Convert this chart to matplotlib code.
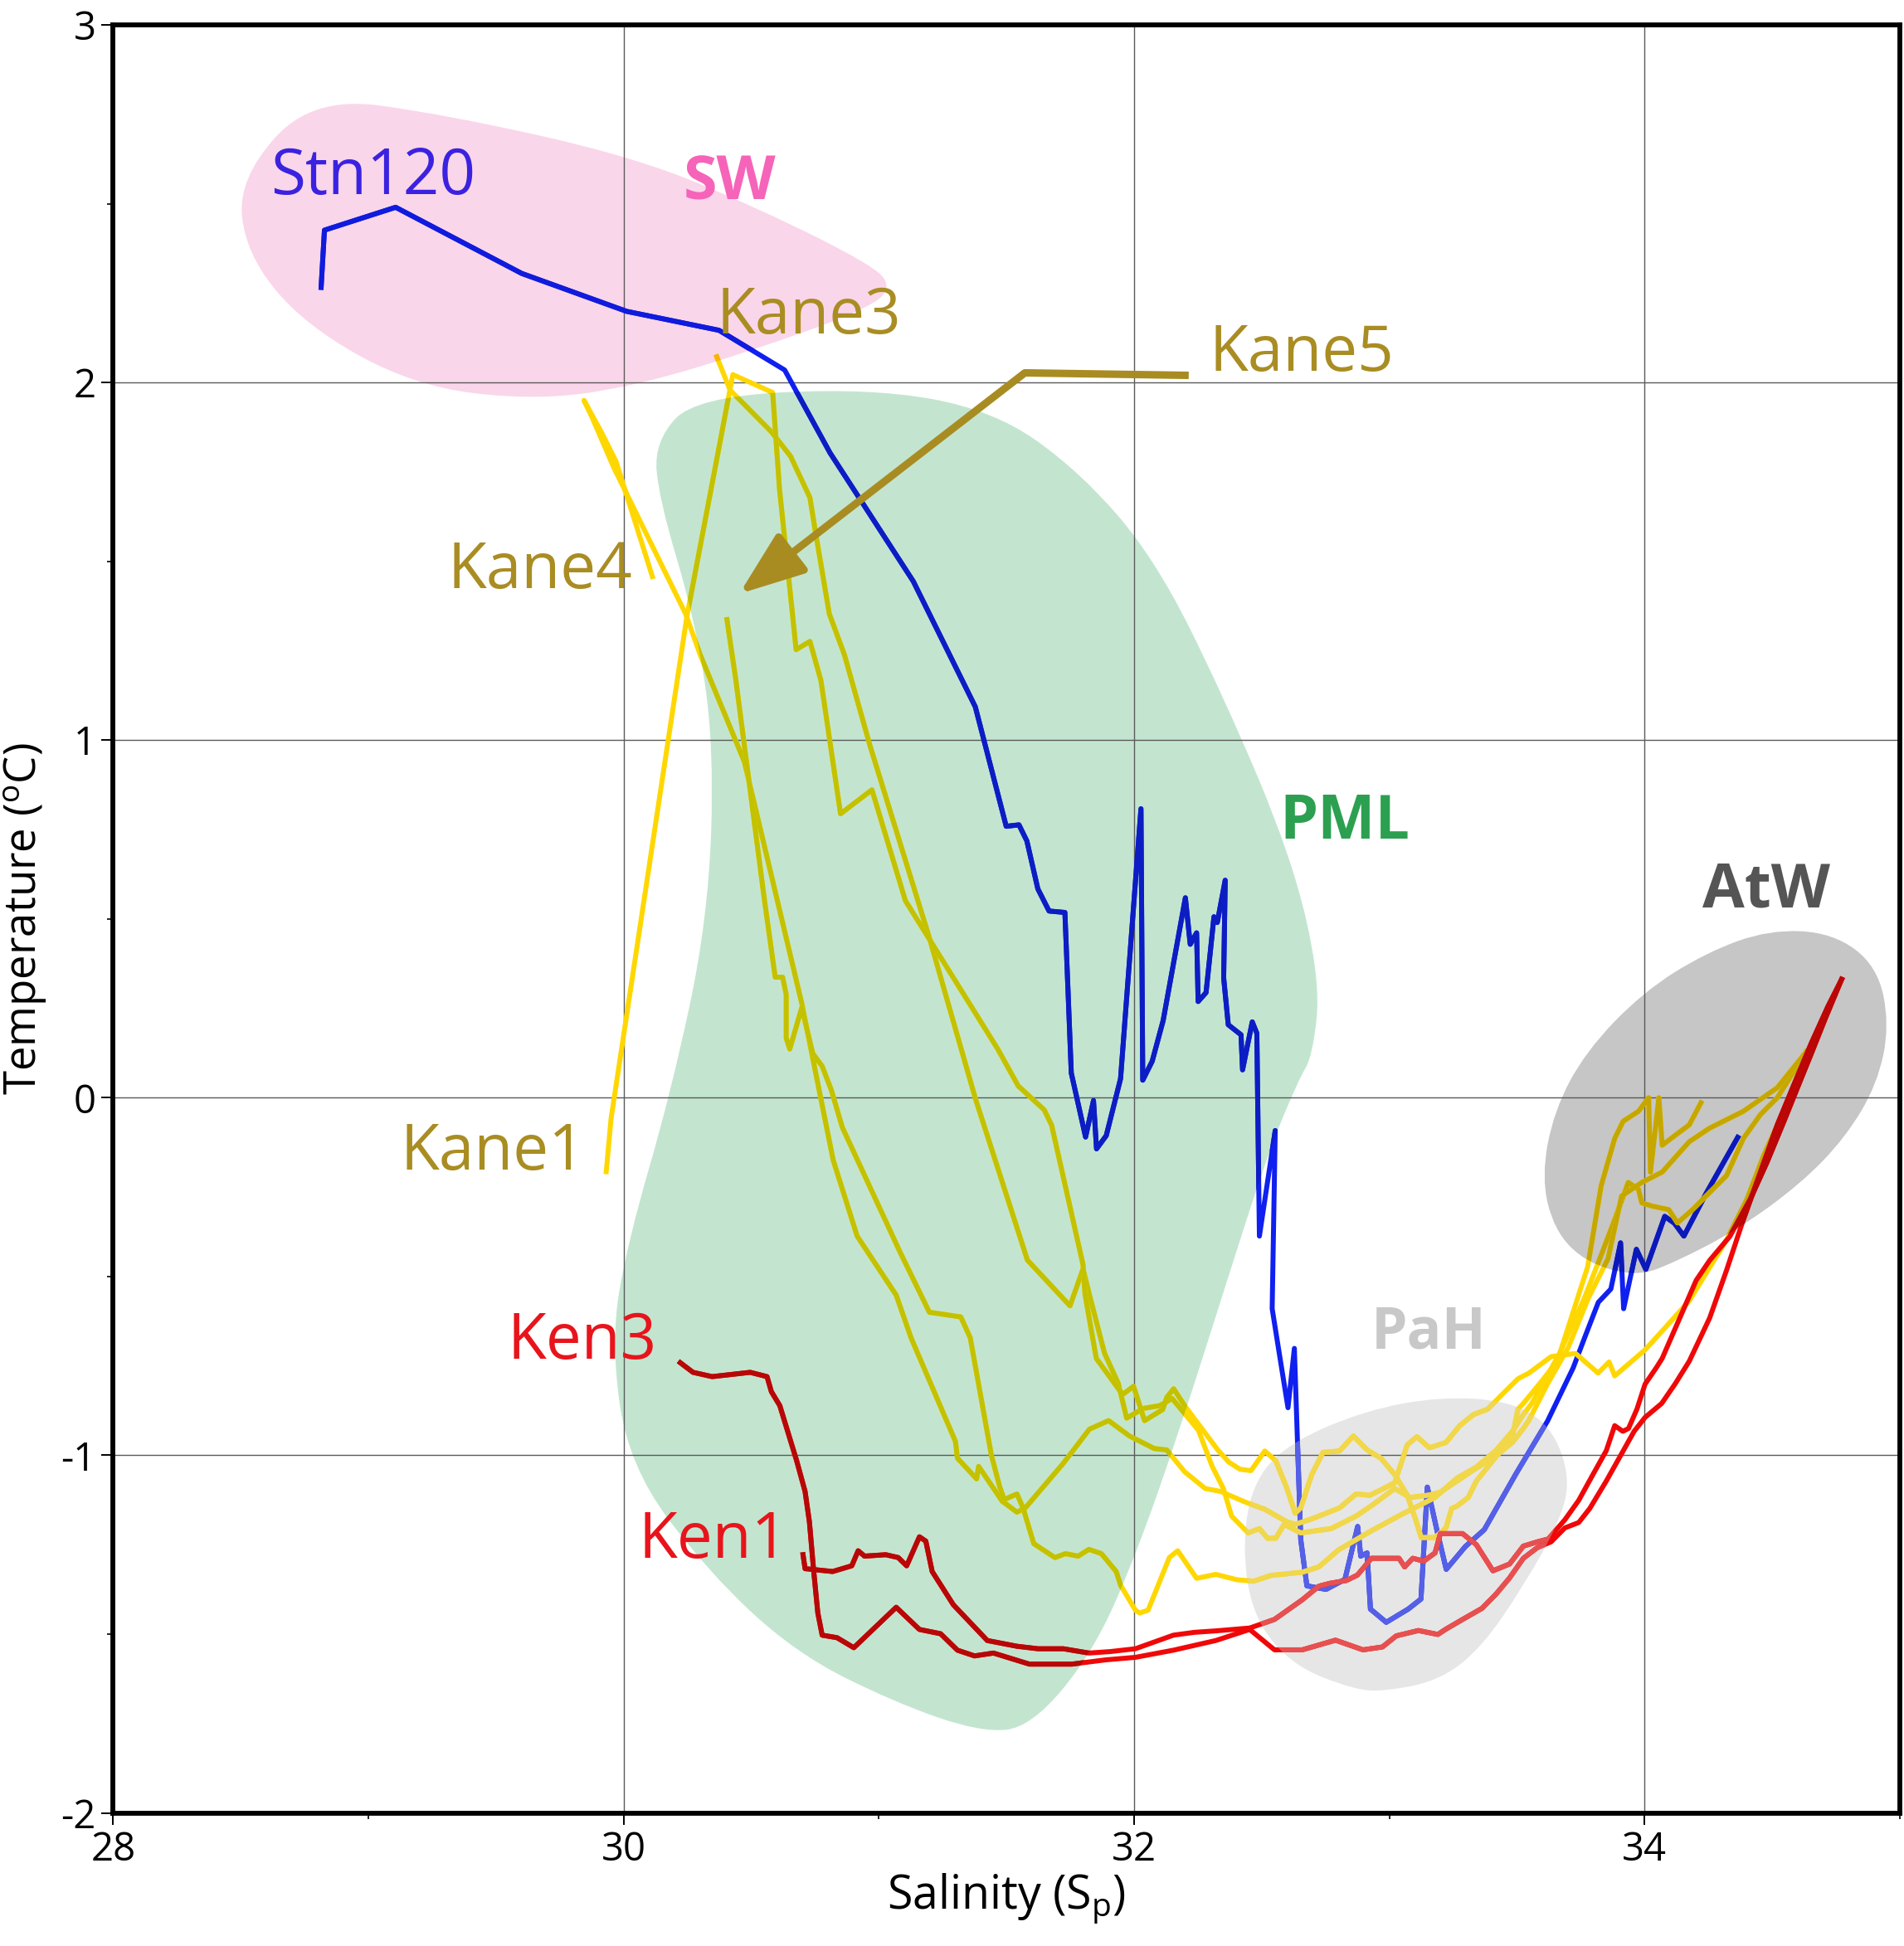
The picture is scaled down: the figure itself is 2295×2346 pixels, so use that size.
import numpy as np
import matplotlib
matplotlib.use('Agg')
import matplotlib.pyplot as plt
from matplotlib.path import Path
from matplotlib.patches import PathPatch
from matplotlib.colors import to_rgb

plt.rcParams['font.family'] = ['Open Sans', 'DejaVu Sans']
plt.rcParams['mathtext.default'] = 'regular'
plt.rcParams['axes.unicode_minus'] = False

# ---- profiles (salinity, temperature) ----
stn120_s = [28.815, 28.828, 29.107, 29.601, 30.012, 30.374, 30.631, 30.809, 31.135, 31.378, 31.499, 31.549,
            31.580, 31.623, 31.667, 31.729, 31.754, 31.810, 31.841, 31.853, 31.891, 31.947, 32.027, 32.034,
            32.071, 32.114, 32.201, 32.220, 32.245, 32.251, 32.282, 32.313, 32.326, 32.357, 32.351, 32.369,
            32.419, 32.425, 32.463, 32.481, 32.491, 32.553, 32.541, 32.578, 32.603, 32.628, 32.640, 32.653,
            32.677, 32.752, 32.826, 32.876, 32.888, 32.913, 32.926, 32.988, 33.074, 33.124, 33.149, 33.186,
            33.223, 33.298, 33.372, 33.496, 33.620, 33.720, 33.769, 33.819, 33.868, 33.906, 33.918, 33.968,
            34.005, 34.079, 34.117, 34.154, 34.241, 34.365]
stn120_t = [2.266, 2.426, 2.490, 2.305, 2.199, 2.146, 2.035, 1.803, 1.444, 1.093, 0.759, 0.763,
            0.718, 0.584, 0.522, 0.518, 0.069, -0.110, -0.008, -0.143, -0.106, 0.053, 0.808, 0.049,
            0.102, 0.216, 0.559, 0.429, 0.461, 0.269, 0.294, 0.506, 0.490, 0.608, 0.335, 0.204,
            0.176, 0.078, 0.212, 0.180, -0.387, -0.092, -0.590, -0.756, -0.867, -0.701, -0.959, -1.236,
            -1.365, -1.375, -1.347, -1.199, -1.282, -1.273, -1.430, -1.467, -1.430, -1.402, -1.089, -1.208,
            -1.319, -1.255, -1.208, -1.052, -0.904, -0.756, -0.664, -0.572, -0.535, -0.406, -0.590, -0.424,
            -0.480, -0.332, -0.351, -0.387, -0.268, -0.111]

kane1_s = [29.932, 29.951, 30.248, 30.428, 30.584, 30.611, 30.676, 30.730, 30.773, 30.850, 30.973, 31.104,
           31.466, 31.546, 31.648, 31.677, 31.800, 31.808, 31.852, 31.955, 31.998, 32.041, 32.112, 32.128,
           32.155, 32.198, 32.263, 32.328, 32.371, 32.415, 32.458, 32.512, 32.555, 32.599, 32.631, 32.653,
           32.696, 32.740, 32.805, 32.859, 32.913, 32.967, 33.021, 33.070, 33.103, 33.125, 33.179, 33.222,
           33.244, 33.265, 33.309, 33.341, 33.385, 33.428, 33.482, 33.504, 33.525, 33.600, 33.658, 33.777,
           33.830, 33.883, 33.916, 33.976, 34.016, 34.023, 34.056, 34.069, 34.122, 34.175, 34.221]
kane1_t = [-0.207, -0.058, 1.346, 2.022, 1.972, 1.701, 1.253, 1.276, 1.167, 0.794, 0.861, 0.551,
           0.136, 0.033, -0.034, -0.077, -0.467, -0.551, -0.729, -0.830, -0.807, -0.903, -0.872, -0.838,
           -0.814, -0.861, -0.923, -0.985, -1.019, -1.039, -1.043, -0.988, -1.015, -1.093, -1.162, -1.147,
           -1.054, -0.992, -0.988, -0.946, -0.985, -1.008, -1.054, -1.111, -1.180, -1.230, -1.230, -1.203,
           -1.149, -1.142, -1.118, -1.072, -1.033, -0.995, -0.948, -0.871, -0.855, -0.790, -0.737, -0.473,
           -0.246, -0.114, -0.066, -0.038, 0.0, -0.208, 0.0, -0.133, -0.104, -0.076, -0.014]

kane3_s = [30.365, 30.417, 30.578, 30.654, 30.730, 30.751, 30.806, 30.865, 30.966, 31.198, 31.379, 31.582,
           31.749, 31.800, 31.825, 31.884, 31.938, 31.971, 32.036, 32.101, 32.149, 32.252, 32.306, 32.350,
           32.382, 32.447, 32.491, 32.523, 32.555, 32.588, 32.653, 32.772, 32.870, 32.934, 33.021, 33.081,
           33.157, 33.200, 33.265, 33.330, 33.417, 33.482, 33.525, 33.547, 33.620, 33.700, 33.780, 33.857,
           33.910, 33.989, 34.069, 34.175, 34.255, 34.387, 34.520, 34.633]
kane3_t = [2.072, 1.979, 1.863, 1.794, 1.678, 1.585, 1.353, 1.239, 0.983, 0.447, -0.004, -0.454,
           -0.582, -0.479, -0.551, -0.714, -0.799, -0.896, -0.869, -0.861, -0.841, -0.930, -1.031, -1.093,
           -1.170, -1.217, -1.205, -1.232, -1.232, -1.193, -1.217, -1.205, -1.170, -1.139, -1.093, -1.118,
           -1.111, -1.103, -1.072, -1.041, -1.002, -0.964, -0.925, -0.902, -0.800, -0.700, -0.560, -0.450,
           -0.275, -0.237, -0.208, -0.123, -0.085, -0.038, 0.028, 0.128]

kane4_s = [30.113, 29.970, 29.913, 29.845, 29.875, 29.961, 30.243, 30.300, 30.473, 30.698, 30.821, 30.915,
           31.068, 31.126, 31.300, 31.308, 31.383, 31.391, 31.483, 31.541, 31.574, 31.722, 31.825, 31.900,
           31.982, 32.079, 32.128, 32.198, 32.279, 32.339, 32.436, 32.512, 32.599, 32.631, 32.696, 32.805,
           32.870, 32.924, 33.021, 33.070, 33.108, 33.157, 33.222, 33.276, 33.330, 33.385, 33.439, 33.504,
           33.547, 33.634, 33.720, 33.731, 33.818, 33.861, 33.883, 34.002, 34.067, 34.175, 34.321, 34.401,
           34.467, 34.586, 34.633]
kane4_t = [1.457, 1.780, 1.861, 1.950, 1.905, 1.763, 1.353, 1.239, 0.940, 0.264, -0.174, -0.387,
           -0.552, -0.671, -0.961, -1.008, -1.066, -1.031, -1.128, -1.159, -1.147, -1.023, -0.927, -0.903,
           -0.946, -0.981, -0.985, -1.046, -1.093, -1.101, -1.131, -1.151, -1.186, -1.193, -1.178, -1.147,
           -1.108, -1.112, -1.077, -0.971, -0.948, -0.979, -0.964, -0.917, -0.886, -0.871, -0.832, -0.786,
           -0.770, -0.724, -0.716, -0.716, -0.770, -0.739, -0.778, -0.705, -0.654, -0.568, -0.398, -0.284,
           -0.161, 0.028, 0.128]

kane5_s = [30.405, 30.440, 30.551, 30.594, 30.623, 30.637, 30.637, 30.651, 30.698, 30.741, 30.778, 30.814,
           30.857, 31.082, 31.198, 31.321, 31.358, 31.441, 31.474, 31.491, 31.541, 31.565, 31.607, 31.690,
           31.731, 31.781, 31.823, 31.872, 31.930, 31.947, 32.005, 32.022, 32.055, 32.138, 32.171, 32.245,
           32.320, 32.403, 32.469, 32.536, 32.659, 32.724, 32.800, 32.930, 33.049, 33.179, 33.265, 33.341,
           33.417, 33.482, 33.525, 33.558, 33.612, 33.666, 33.720, 33.764, 33.830, 33.883, 33.936, 33.976,
           33.989, 34.029, 34.095, 34.129, 34.188, 34.255, 34.321, 34.387, 34.454, 34.520, 34.633]
kane5_t = [1.337, 1.167, 0.557, 0.337, 0.337, 0.289, 0.167, 0.136, 0.252, 0.124, 0.088, 0.021,
           -0.083, -0.430, -0.600, -0.613, -0.671, -1.000, -1.089, -1.124, -1.108, -1.147, -1.247, -1.286,
           -1.275, -1.282, -1.263, -1.275, -1.325, -1.363, -1.433, -1.441, -1.433, -1.286, -1.267, -1.344,
           -1.333, -1.348, -1.352, -1.336, -1.327, -1.312, -1.265, -1.211, -1.165, -1.118, -1.064, -1.033,
           -0.987, -0.933, -0.886, -0.855, -0.786, -0.716, -0.631, -0.561, -0.440, -0.341, -0.237, -0.256,
           -0.294, -0.303, -0.313, -0.350, -0.313, -0.265, -0.218, -0.114, -0.047, 0.0, 0.128]

ken3_s = [30.222, 30.272, 30.347, 30.496, 30.562, 30.579, 30.612, 30.645, 30.678, 30.711, 30.728, 30.745,
          30.761, 30.778, 30.836, 30.902, 31.068, 31.159, 31.242, 31.308, 31.375, 31.449, 31.590, 31.756,
          31.889, 32.005, 32.154, 32.320, 32.453, 32.550, 32.659, 32.789, 32.897, 32.973, 33.027, 33.114,
          33.190, 33.222, 33.287, 33.363, 33.417, 33.471, 33.525, 33.580, 33.634, 33.688, 33.742, 33.785,
          33.850, 33.905, 33.959, 34.002, 34.067, 34.120, 34.175, 34.255, 34.321, 34.387, 34.454, 34.520,
          34.586, 34.653, 34.719, 34.772]
ken3_t = [-0.741, -0.768, -0.780, -0.768, -0.780, -0.822, -0.861, -0.938, -1.015, -1.101, -1.186, -1.325,
          -1.441, -1.503, -1.510, -1.538, -1.425, -1.487, -1.499, -1.545, -1.561, -1.553, -1.584, -1.584,
          -1.572, -1.565, -1.545, -1.518, -1.487, -1.544, -1.544, -1.517, -1.544, -1.536, -1.505, -1.490,
          -1.501, -1.486, -1.459, -1.428, -1.389, -1.343, -1.288, -1.258, -1.242, -1.203, -1.188, -1.149,
          -1.072, -1.002, -0.933, -0.894, -0.855, -0.800, -0.737, -0.616, -0.483, -0.341, -0.208, -0.076,
          0.038, 0.152, 0.256, 0.331]

ken1_s = [30.703, 30.711, 30.819, 30.894, 30.919, 30.944, 31.027, 31.076, 31.109, 31.159, 31.184, 31.209,
          31.292, 31.425, 31.541, 31.624, 31.723, 31.823, 31.905, 32.005, 32.154, 32.237, 32.320, 32.453,
          32.550, 32.659, 32.724, 32.767, 32.832, 32.875, 32.930, 33.038, 33.060, 33.092, 33.135, 33.179,
          33.200, 33.287, 33.341, 33.406, 33.471, 33.525, 33.580, 33.623, 33.688, 33.742, 33.796, 33.850,
          33.883, 33.915, 33.937, 33.970, 34.002, 34.046, 34.069, 34.202, 34.255, 34.334, 34.414, 34.480,
          34.546, 34.599, 34.653, 34.706, 34.772]
ken1_t = [-1.278, -1.317, -1.325, -1.309, -1.267, -1.282, -1.278, -1.286, -1.309, -1.228, -1.240, -1.325,
          -1.418, -1.518, -1.534, -1.541, -1.541, -1.553, -1.549, -1.541, -1.503, -1.495, -1.491, -1.483,
          -1.459, -1.404, -1.366, -1.358, -1.350, -1.335, -1.288, -1.288, -1.312, -1.288, -1.296, -1.273,
          -1.219, -1.219, -1.250, -1.323, -1.304, -1.254, -1.242, -1.234, -1.180, -1.126, -1.056, -0.987,
          -0.917, -0.933, -0.925, -0.871, -0.801, -0.755, -0.729, -0.511, -0.455, -0.388, -0.284, -0.180,
          -0.066, 0.028, 0.123, 0.218, 0.331]

# ---- water mass outlines ----
sw_s = [28.49, 28.78, 29.30, 30.05, 30.55, 30.97, 31.05, 30.97, 30.55, 30.05, 29.65, 29.18, 28.75, 28.52]
sw_t = [2.57, 2.80, 2.75, 2.63, 2.48, 2.33, 2.27, 2.21, 2.10, 1.99, 1.95, 1.99, 2.16, 2.36]
pml_s = [30.122, 30.282, 30.964, 31.450, 31.791, 32.083, 32.350, 32.618, 32.730, 32.700, 32.642, 32.521,
         32.350, 32.180, 32.010, 31.839, 31.596, 31.401, 31.061, 30.672, 30.331, 30.020, 29.950, 30.015,
         30.185, 30.331, 30.355, 30.282, 30.136]
pml_t = [1.836, 1.960, 1.985, 1.923, 1.749, 1.506, 1.124, 0.672, 0.325, 0.117, 0.047, -0.162,
         -0.544, -0.926, -1.274, -1.552, -1.760, -1.775, -1.691, -1.552, -1.326, -1.031, -0.683, -0.405,
         0.012, 0.498, 0.985, 1.332, 1.680]
atw_s = [33.596, 33.645, 33.769, 33.993, 34.241, 34.489, 34.737, 34.911, 34.960, 34.911, 34.787, 34.613,
         34.365, 34.117, 33.968, 33.769, 33.645]
atw_t = [-0.221, -0.037, 0.129, 0.295, 0.406, 0.470, 0.461, 0.369, 0.203, 0.037, -0.111, -0.240,
         -0.369, -0.461, -0.500, -0.461, -0.369]
pah_s = [32.423, 32.472, 32.618, 32.910, 33.200, 33.471, 33.634, 33.710, 33.666, 33.525, 33.363, 33.200,
         32.984, 32.861, 32.618, 32.462]
pah_t = [-1.239, -1.065, -0.961, -0.874, -0.836, -0.848, -0.917, -1.064, -1.188, -1.366, -1.536, -1.629,
         -1.660, -1.655, -1.587, -1.448]


def blob(s, t):
    # closed smooth outline through the midpoints of the control polygon
    pts = list(zip(s, t))
    n = len(pts)
    mids = [((pts[i][0] + pts[(i + 1) % n][0]) / 2, (pts[i][1] + pts[(i + 1) % n][1]) / 2) for i in range(n)]
    verts = [mids[-1]]
    codes = [Path.MOVETO]
    for i in range(n):
        verts += [pts[i], mids[i]]
        codes += [Path.CURVE3, Path.CURVE3]
    return Path(verts, codes)


fig = plt.figure(figsize=(22.95, 23.46), dpi=100)
ax = fig.add_axes([0.0594, 0.0684, 0.9384, 0.9188])
ax.set_xlim(28, 35)
ax.set_ylim(-2, 3)

sw_col = '#fad6ea'
pml_col = '#c3e5d0'
atw_col = '#c6c6c6'
pah_col = '#e6e6e6'

sw = PathPatch(blob(sw_s, sw_t), facecolor=sw_col, edgecolor='none', zorder=0.2)
pml = PathPatch(blob(pml_s, pml_t), facecolor=pml_col, edgecolor='none', zorder=0.2)
atw = PathPatch(blob(atw_s, atw_t), facecolor=atw_col, edgecolor='none', zorder=0.2)
pah = PathPatch(blob(pah_s, pah_t), facecolor=pah_col, edgecolor='none', zorder=0.2)
for p in (sw, pml, atw, pah):
    ax.add_patch(p)


def mult(c, p):
    return tuple(a * b for a, b in zip(to_rgb(c), to_rgb(p)))


def lighten(c):
    return tuple(0.65 * a + 0.35 * 0.84 for a in to_rgb(c))


blue = '#1020f0'
gold = '#ffd700'
red = '#f00808'
profiles = [(stn120_s, stn120_t, blue), (kane4_s, kane4_t, gold), (kane5_s, kane5_t, gold),
            (kane3_s, kane3_t, gold), (kane1_s, kane1_t, gold), (ken3_s, ken3_t, red),
            (ken1_s, ken1_t, red)]

lw = 4.3
for k, (s, t, c) in enumerate(profiles):
    z = 2 + k * 0.1
    ax.plot(s, t, color=c, lw=lw, zorder=z)
    # the shaded regions tint the lines passing through them
    for patch, col in ((sw, mult(c, sw_col)), (pml, mult(c, pml_col)),
                       (atw, mult(c, atw_col)), (pah, lighten(c))):
        ln, = ax.plot(s, t, color=col, lw=lw, zorder=z + 0.05)
        ln.set_clip_path(patch)

# arrow from the Kane5 label
arrow_col = '#a88c22'
ax.plot([32.214, 31.572], [2.020, 2.027], color=arrow_col, lw=6.5, solid_capstyle='butt', zorder=4)
ax.annotate('', xy=(30.453, 1.409), xytext=(31.572, 2.027),
            arrowprops=dict(arrowstyle='-|>,head_length=1.2,head_width=0.45', color=arrow_col,
                            lw=6.5, mutation_scale=40, shrinkA=0, shrinkB=0), zorder=4)

# labels
lab = dict(ha='center', va='center', zorder=5)
ax.text(29.017, 2.573, 'Stn120', color='#3b22e0', fontsize=55, **lab)
ax.text(30.725, 2.183, 'Kane3', color='#a98d23', fontsize=55, **lab)
ax.text(32.657, 2.079, 'Kane5', color='#a98d23', fontsize=55, **lab)
ax.text(29.674, 1.471, 'Kane4', color='#a98d23', fontsize=55, **lab)
ax.text(29.489, -0.155, 'Kane1', color='#a98d23', fontsize=55, **lab)
ax.text(29.839, -0.683, 'Ken3', color='#e8141c', fontsize=55, **lab)
ax.text(30.350, -1.239, 'Ken1', color='#e8141c', fontsize=55, **lab)
ax.text(30.414, 2.555, 'SW', color='#f564b9', fontsize=53, fontweight='bold', **lab)
ax.text(32.827, 0.769, 'PML', color='#2ca050', fontsize=53, fontweight='bold', **lab)
ax.text(34.477, 0.578, 'AtW', color='#555555', fontsize=53, fontweight='bold', **lab)
ax.text(33.153, -0.659, 'PaH', color='#c8c8c8', fontsize=50, fontweight='bold', **lab)

# axes styling
ax.set_xticks([28, 30, 32, 34])
ax.set_xticks([29, 31, 33, 35], minor=True)
ax.set_yticks([-2, -1, 0, 1, 2, 3])
ax.set_yticks([-1.5, -0.5, 0.5, 1.5, 2.5], minor=True)
ax.tick_params(which='major', direction='out', length=10, width=1.4, labelsize=34, pad=5)
ax.tick_params(which='minor', direction='out', length=5, width=1.2)
ax.grid(True, which='major', color='#5a5a5a', lw=1.0)
ax.set_axisbelow(True)
for sp in ax.spines.values():
    sp.set_linewidth(4.2)
ax.set_xlabel('Salinity (S$_{p}$)', fontsize=40, labelpad=2)
ax.set_ylabel('Temperature ($^{o}$C)', fontsize=38, va='center')
ax.yaxis.set_label_coords(-0.049, 0.5)

fig.savefig('out.png', dpi=100)
